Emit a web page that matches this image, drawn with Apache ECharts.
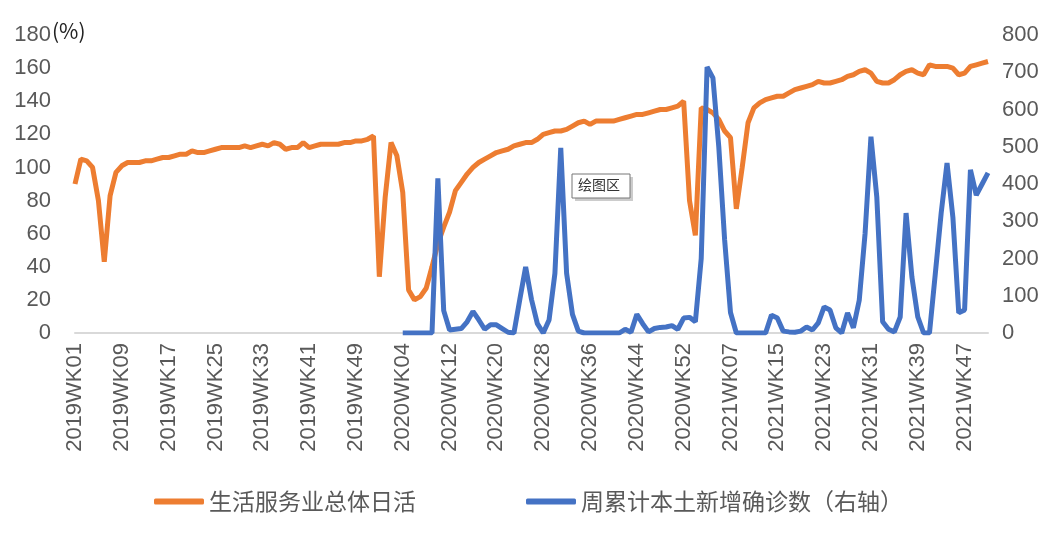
<!DOCTYPE html>
<html><head><meta charset="utf-8">
<script src="https://cdn.jsdelivr.net/npm/echarts@6/dist/echarts.min.js"></script>
<style>html,body{margin:0;padding:0;background:#fff}#c{width:1057px;height:536px}</style>
</head><body><div id="c"></div>
<script>
const weeksPerYear = [[2019,53],[2020,53],[2021,51]];
const categories = [];
weeksPerYear.forEach(([y,n]) => { for (let w = 1; w <= n; w++) categories.push(y + 'WK' + String(w).padStart(2,'0')); });

const serviceActivity = [
 90,105,104,100,80,43,83,97,101,103,
 103,103,104,104,105,106,106,107,108,108,
 110,109,109,110,111,112,112,112,112,113,
 112,113,114,113,115,114,111,112,112,115,
 112,113,114,114,114,114,115,115,116,116,
 117,119,34,82,115,107,
 85,26,20,22,27,40,54,64,73,86,
 91,96,100,103,105,107,109,110,111,113,
 114,115,115,117,120,121,122,122,123,125,
 127,128,126,128,128,128,128,129,130,131,
 132,132,133,134,135,135,136,137,140,80,
 59,136,135,133,129,122,118,75,100,127,
 136,139,141,142,143,143,145,147,148,149,
 150,152,151,151,152,153,155,156,158,159,
 157,152,151,151,153,156,158,159,157,156,
 162,161,161,161,
 160,156,157,161,162,163,164
];

const newCases = [
 null,null,null,null,null,null,null,null,null,null,
 null,null,null,null,null,null,null,null,null,null,
 null,null,null,null,null,null,null,null,null,null,
 null,null,null,null,null,null,null,null,null,null,
 null,null,null,null,null,null,null,null,null,null,
 null,null,null,null,null,null,
 0,0,0,0,0,0,
 415,60,8,10,12,30,58,35,10,22,
 22,12,2,0,90,177,90,25,0,35,
 160,497,160,50,5,0,0,0,0,0,
 0,0,10,2,50,25,3,12,15,16,
 20,10,40,42,30,200,714,685,500,250,
 55,0,0,0,0,0,0,48,40,5,
 3,2,5,16,8,27,70,62,14,0,
 54,14,88,268,527,365,30,10,3,43,
 322,150,43,0,0,160,322,456,311,54,
 62,438,370,400,430
];

const seriesNames = ['生活服务业总体日活','周累计本土新增确诊数（右轴）'];
const FONT = "'Noto Sans CJK SC', sans-serif";
const grey = '#595959';

const chart = echarts.init(document.getElementById('c'));
chart.setOption({
  animation: false,
  textStyle: {fontFamily: FONT},
  grid: {left: 75, right: 69, top: 35, bottom: 203},
  legend: {
    bottom: 18, left: 'center', itemGap: 110, itemWidth: 50, itemHeight: 6,
    icon: 'roundRect',
    textStyle: {fontSize: 23, color: grey, fontFamily: FONT},
    data: seriesNames
  },
  xAxis: {
    type: 'category', data: categories, boundaryGap: false,
    axisLine: {lineStyle: {color: '#d9d9d9', width: 2}},
    axisTick: {show: false},
    axisLabel: {interval: 7, rotate: 90, color: grey, fontSize: 22, fontFamily: 'Liberation Sans', margin: 10}
  },
  yAxis: [
    {type: 'value', min: 0, max: 180, interval: 20,
     axisLine: {show: false}, axisTick: {show: false}, splitLine: {show: false},
     axisLabel: {color: grey, fontSize: 22, fontFamily: 'Liberation Sans', margin: 24}},
    {type: 'value', min: 0, max: 800, interval: 100,
     axisLine: {show: false}, axisTick: {show: false}, splitLine: {show: false},
     axisLabel: {color: grey, fontSize: 22, fontFamily: 'Liberation Sans', margin: 14}}
  ],
  graphic: [
    {type: 'text', left: 52, top: 21, style: {text: '(%)', fontSize: 21, fill: '#222', fontFamily: FONT}},
    {type: 'rect', shape: {x: 575, y: 177, width: 58, height: 24}, style: {fill: '#ccc'}},
    {type: 'rect', shape: {x: 572, y: 174, width: 58, height: 24}, style: {fill: '#fff', stroke: '#777', lineWidth: 1}},
    {type: 'text', x: 578, y: 178, style: {text: '绘图区', fontSize: 14, fill: '#333', fontFamily: FONT}}
  ],
  series: [
    {name: seriesNames[0], type: 'line', yAxisIndex: 0, data: serviceActivity,
     showSymbol: false, lineStyle: {color: '#ED7D31', width: 5}, itemStyle: {color: '#ED7D31'}, z: 2},
    {name: seriesNames[1], type: 'line', yAxisIndex: 1, data: newCases,
     showSymbol: false, lineStyle: {color: '#4472C4', width: 5}, itemStyle: {color: '#4472C4'}, z: 3}
  ]
});
</script></body></html>
